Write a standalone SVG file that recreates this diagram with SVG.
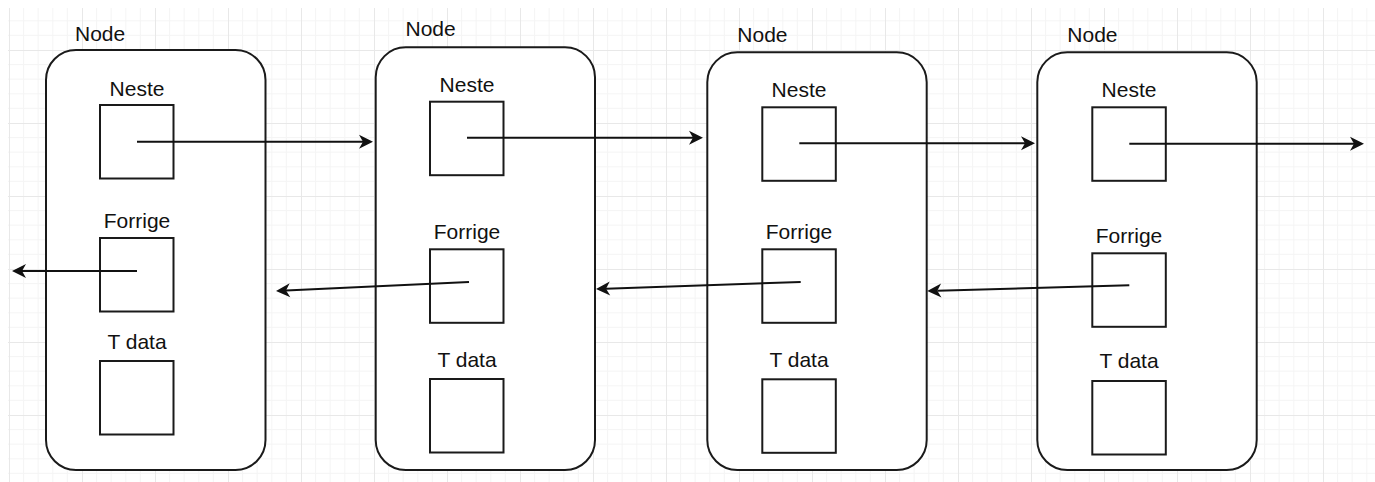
<svg xmlns="http://www.w3.org/2000/svg" width="1375" height="482" viewBox="0 0 1375 482">
<style>
.node{fill:#ffffff;stroke:#1a1a1a;stroke-width:2}
.box{fill:#ffffff;stroke:#1a1a1a;stroke-width:2}
.lbl{font-family:"Liberation Sans",Arial,sans-serif;font-size:21px;fill:#111111}
.mid{text-anchor:middle}
.edge{fill:none;stroke:#111111;stroke-width:2}
</style>
<defs>
<pattern id="grid" patternUnits="userSpaceOnUse" x="9" y="50" width="73" height="73">
<rect width="73" height="73" fill="#ffffff"/>
<path d="M14.6,0V73M29.2,0V73M43.8,0V73M58.4,0V73M0,14.6H73M0,29.2H73M0,43.8H73M0,58.4H73" stroke="#f5f5f5" stroke-width="1" fill="none"/>
<path d="M0.5,0V73M0,0.5H73" stroke="#e8e8e8" stroke-width="1" fill="none"/>
</pattern>
<marker id="arr" viewBox="-5 -8 16 16" refX="0" refY="0" markerWidth="16" markerHeight="16" markerUnits="userSpaceOnUse" orient="auto">
<path d="M10,0 L-4,-7 L0,0 L-4,7 Z" fill="#111111"/>
</marker>
</defs>
<rect width="1375" height="482" fill="#ffffff"/>
<rect x="8" y="8" width="1367" height="474" fill="url(#grid)"/>

<g id="node1">
<rect class="node" x="46" y="50" width="219.5" height="420" rx="30" ry="30"/>
<text class="lbl" x="75" y="40.5">Node</text>
<text class="lbl mid" x="137" y="96">Neste</text>
<rect class="box" x="100" y="105" width="73.5" height="73.5"/>
<text class="lbl mid" x="137" y="228">Forrige</text>
<rect class="box" x="100" y="238" width="73.5" height="73.5"/>
<text class="lbl mid" x="137" y="349">T data</text>
<rect class="box" x="100" y="361" width="73.5" height="73.5"/>
</g>

<g id="node2">
<rect class="node" x="375.7" y="47.3" width="219.3" height="422.7" rx="30" ry="30"/>
<text class="lbl" x="405.5" y="36">Node</text>
<text class="lbl mid" x="467" y="92">Neste</text>
<rect class="box" x="430" y="101.7" width="73.5" height="73.5"/>
<text class="lbl mid" x="467" y="239">Forrige</text>
<rect class="box" x="430" y="249.3" width="73.5" height="73.5"/>
<text class="lbl mid" x="467" y="366.5">T data</text>
<rect class="box" x="430" y="379" width="73.5" height="73.5"/>
</g>

<g id="node3">
<rect class="node" x="707.3" y="52.3" width="219.4" height="417.7" rx="30" ry="30"/>
<text class="lbl" x="737.3" y="42">Node</text>
<text class="lbl mid" x="799" y="96.7">Neste</text>
<rect class="box" x="762.3" y="107.3" width="73.5" height="73.5"/>
<text class="lbl mid" x="799" y="239">Forrige</text>
<rect class="box" x="762.3" y="249.3" width="73.5" height="73.5"/>
<text class="lbl mid" x="799" y="367">T data</text>
<rect class="box" x="762.3" y="379.3" width="73.5" height="73.5"/>
</g>

<g id="node4">
<rect class="node" x="1037.3" y="52.3" width="219.4" height="417.7" rx="30" ry="30"/>
<text class="lbl" x="1067.3" y="42">Node</text>
<text class="lbl mid" x="1129" y="97">Neste</text>
<rect class="box" x="1092.3" y="107.3" width="73.5" height="73.5"/>
<text class="lbl mid" x="1129" y="243">Forrige</text>
<rect class="box" x="1092.3" y="253.3" width="73.5" height="73.5"/>
<text class="lbl mid" x="1129" y="368">T data</text>
<rect class="box" x="1092.3" y="381" width="73.5" height="73.5"/>
</g>

<g id="connectors">
<line class="edge" x1="137" y1="141.7" x2="363" y2="141.7" marker-end="url(#arr)"/>
<line class="edge" x1="467" y1="137.7" x2="693" y2="137.7" marker-end="url(#arr)"/>
<line class="edge" x1="799.3" y1="143.3" x2="1025" y2="143.3" marker-end="url(#arr)"/>
<line class="edge" x1="1129.3" y1="143.7" x2="1354" y2="143.7" marker-end="url(#arr)"/>
<line class="edge" x1="137" y1="271" x2="22" y2="271" marker-end="url(#arr)"/>
<line class="edge" x1="469" y1="282" x2="286" y2="290.5" marker-end="url(#arr)"/>
<line class="edge" x1="800.7" y1="282" x2="606" y2="288.7" marker-end="url(#arr)"/>
<line class="edge" x1="1129.3" y1="285.3" x2="937.3" y2="290.7" marker-end="url(#arr)"/>
</g>
</svg>
